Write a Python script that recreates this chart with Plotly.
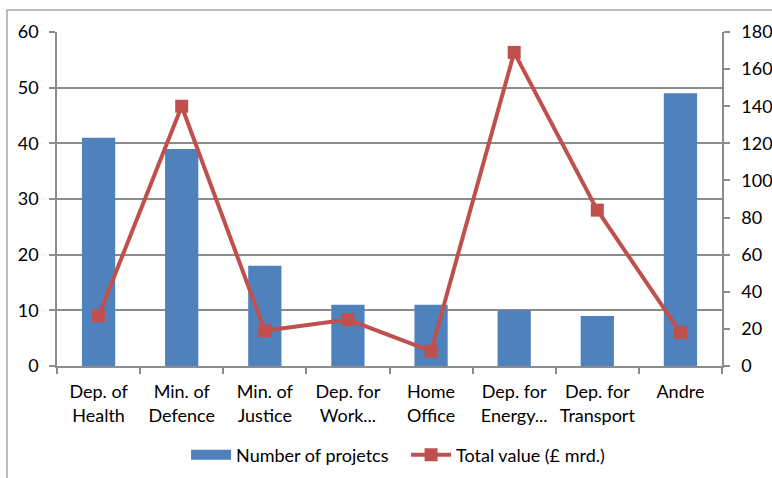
import plotly.graph_objects as go

categories = ["Dep. of<br>Health", "Min. of<br>Defence", "Min. of<br>Justice", "Dep. for<br>Work...",
              "Home<br>Office", "Dep. for<br>Energy...", "Dep. for<br>Transport", "Andre"]
num_projects = [41, 39, 18, 11, 11, 10, 9, 49]
total_value = [27, 140, 19, 25, 8, 169, 84, 18]

blue = "#4F81BD"
red = "#C0504D"
grid = "#8C8C8C"
font = dict(family="Lato, Open Sans, sans-serif", size=18, color="#000000")

W, H = 772, 478
ml, mr, mt, mb = 57, 50, 32, 112
pw, ph = W - ml - mr, H - mt - mb

fig = go.Figure()
fig.add_trace(go.Bar(x=categories, y=num_projects, name="Number of projetcs",
                     marker=dict(color=blue, line=dict(width=0)), yaxis="y", showlegend=False))
# legend key for the bars drawn as a wide block
fig.add_trace(go.Scatter(x=[None], y=[None], mode="lines", name="Number of projetcs",
                         line=dict(color=blue, width=12), yaxis="y"))
fig.add_trace(go.Scatter(x=categories, y=total_value, name="Total value (£ mrd.)",
                         mode="lines+markers", yaxis="y2",
                         line=dict(color=red, width=4),
                         marker=dict(symbol="square", size=13, color=red)))

# outer chart frame
fig.add_shape(type="rect", xref="paper", yref="paper",
              x0=(7 - ml) / pw, x1=(W + 20 - ml) / pw,
              y0=(H - mb - (H + 20)) / ph, y1=(H - mb - 10) / ph,
              line=dict(color="#A6A6A6", width=1.5), fillcolor="rgba(0,0,0,0)", layer="below")

fig.update_layout(
    width=W, height=H,
    margin=dict(l=ml, r=mr, t=mt, b=mb, autoexpand=False),
    paper_bgcolor="white", plot_bgcolor="white",
    font=font,
    bargap=0.6,
    showlegend=True,
    legend=dict(orientation="h", x=0.526, xanchor="center", xref="container",
                y=1 - 455 / H, yanchor="middle", yref="container",
                font=dict(size=18), itemwidth=40, traceorder="normal",
                entrywidth=165, entrywidthmode="pixels",
                bgcolor="rgba(0,0,0,0)"),
    xaxis=dict(type="category", showline=True, linecolor=grid, linewidth=1.5,
               ticks="outside", tickson="boundaries", ticklen=6, tickcolor=grid, tickwidth=1.5,
               showgrid=False, tickfont=font, ticklabelstandoff=9, tickangle=0),
    yaxis=dict(range=[0, 60], dtick=10, showline=True, linecolor=grid, linewidth=1.5,
               ticks="outside", ticklen=6, tickcolor=grid, tickwidth=1.5,
               gridcolor=grid, gridwidth=1.5, zeroline=False, tickfont=font, ticklabelstandoff=7),
    yaxis2=dict(range=[0, 180], dtick=20, overlaying="y", side="right", showline=True,
                linecolor=grid, linewidth=1.5, ticks="outside", ticklen=6, tickcolor=grid,
                tickwidth=1.5, showgrid=False, zeroline=False, tickfont=font, ticklabelstandoff=8),
)

fig.write_html("out.html")
